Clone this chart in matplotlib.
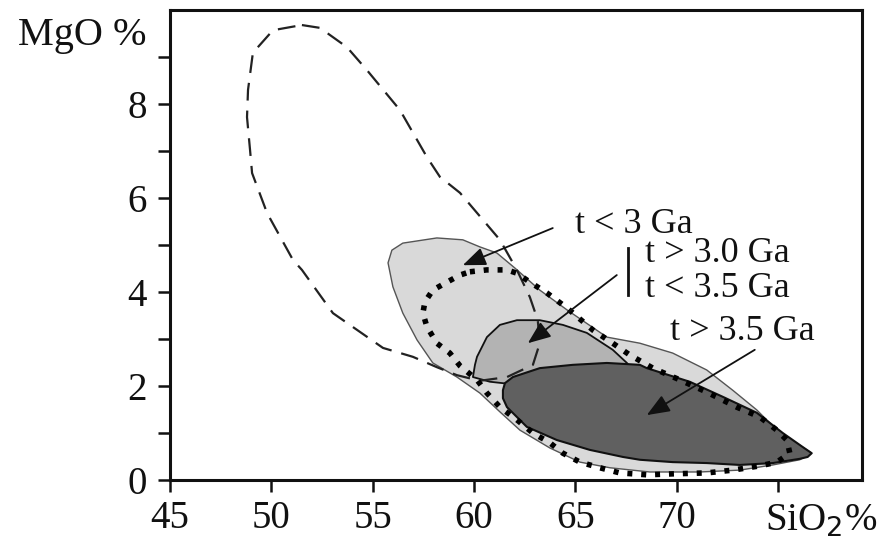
import matplotlib
matplotlib.use("Agg")
import matplotlib.pyplot as plt
from matplotlib.patches import Polygon

# ── Data (SiO2 %, MgO %) ─────────────────────────────────────────────────────

# dashed field (open, white)
dash_x = [51.51, 52.40, 53.73, 54.72, 56.35, 57.68, 58.32, 59.31, 61.28, 62.12,
          62.76, 63.15, 63.25, 62.91, 61.63, 60.29, 59.16, 58.17, 56.99, 55.51,
          53.04, 51.51, 51.07, 49.79, 49.05, 48.95, 48.80, 48.85, 49.09, 50.08]
dash_y = [9.68, 9.62, 9.21, 8.72, 7.87, 6.87, 6.45, 6.11, 5.11, 4.47,
          3.89, 3.40, 2.91, 2.45, 2.19, 2.11, 2.23, 2.40, 2.62, 2.81,
          3.55, 4.47, 4.68, 5.68, 6.53, 7.02, 7.72, 8.30, 9.09, 9.57]

# light grey field (t < 3 Ga)
light_x = [55.95, 56.49, 58.17, 59.45, 60.29, 61.13, 62.02, 63.25, 64.59, 66.56,
           68.19, 69.81, 71.49, 72.77, 73.96, 75.09, 76.08, 76.67, 76.08, 74.75,
           73.12, 71.15, 68.68, 66.71, 65.23, 63.75, 62.27, 61.28, 60.29, 59.16,
           57.97, 57.19, 56.49, 56.00, 55.76]
light_y = [4.89, 5.04, 5.15, 5.11, 4.96, 4.83, 4.51, 4.04, 3.62, 3.04,
           2.91, 2.70, 2.34, 1.91, 1.49, 1.00, 0.74, 0.57, 0.43, 0.32,
           0.21, 0.17, 0.17, 0.26, 0.38, 0.68, 1.06, 1.45, 1.85, 2.19,
           2.49, 2.98, 3.55, 4.11, 4.62]

# dotted field
dot_x = [59.80, 60.64, 61.63, 62.12, 62.76, 63.60, 64.59, 65.87, 66.85, 67.69,
         68.83, 70.16, 71.49, 72.97, 74.11, 74.95, 75.44, 75.59, 74.95, 74.11,
         72.78, 71.49, 69.81, 68.53, 67.20, 66.21, 65.23, 64.39, 63.75, 62.91,
         62.12, 61.28, 60.64, 60.15, 59.31, 58.81, 58.17, 57.68, 57.48, 57.58,
         57.97, 58.67, 59.31]
dot_y = [4.43, 4.47, 4.47, 4.40, 4.21, 3.98, 3.66, 3.19, 2.91, 2.66,
         2.38, 2.13, 1.87, 1.55, 1.34, 1.06, 0.85, 0.57, 0.38, 0.30,
         0.21, 0.15, 0.13, 0.11, 0.15, 0.26, 0.38, 0.57, 0.79, 1.00,
         1.28, 1.55, 1.85, 2.13, 2.43, 2.70, 2.91, 3.26, 3.55, 3.79,
         4.04, 4.21, 4.36]

# medium grey field (3.0 < t < 3.5 Ga)
mid_x = [59.95, 60.05, 60.15, 60.64, 61.28, 62.12, 63.25, 64.39, 65.57, 66.85,
         67.55, 68.68, 68.19, 66.21, 62.27, 60.79]
mid_y = [2.19, 2.45, 2.62, 3.04, 3.30, 3.40, 3.40, 3.30, 3.13, 2.77,
         2.49, 1.91, 1.28, 1.70, 2.02, 2.09]

# dark grey field (t > 3.5 Ga)
dark_x = [61.43, 61.53, 61.92, 63.25, 64.88, 66.56, 68.19, 68.53, 70.65, 72.28,
          73.96, 75.24, 76.23, 76.67, 76.47, 76.08, 74.75, 73.12, 71.49, 69.81,
          68.19, 67.35, 65.72, 64.09, 62.61, 61.63, 61.43]
dark_y = [1.91, 2.06, 2.19, 2.38, 2.45, 2.49, 2.45, 2.38, 2.09, 1.77,
          1.43, 1.00, 0.70, 0.57, 0.49, 0.45, 0.36, 0.32, 0.36, 0.38,
          0.43, 0.49, 0.64, 0.85, 1.13, 1.55, 1.74]

labels = ["t < 3 Ga", "t > 3.0 Ga", "t < 3.5 Ga", "t > 3.5 Ga"]
label_xy = [(64.98, 5.26), (68.43, 4.64), (68.43, 3.90), (69.67, 2.98)]
arrow_from = [(63.89, 5.36), (67.05, 4.36), (73.86, 2.77)]
arrow_to = [(59.45, 4.57), (62.66, 2.91), (68.53, 1.38)]

x_ticks = [45, 50, 55, 60, 65, 70, 75]
x_ticklabels = ["45", "50", "55", "60", "65", "70", ""]
y_major = [0, 2, 4, 6, 8]
y_minor = [1, 3, 5, 7, 9]

# ── Figure ────────────────────────────────────────────────────────────────────

plt.rcParams["font.family"] = ["Liberation Serif", "DejaVu Serif"]

fig = plt.figure(figsize=(8.8, 5.41), dpi=100)
ax = fig.add_axes([0.1932, 0.1128, 0.7863, 0.8687])
ax.set_xlim(45, 79.15)
ax.set_ylim(0, 10)

def field(xs, ys, **kw):
    ax.add_patch(Polygon(list(zip(xs, ys)), closed=True, joinstyle="round", **kw))

field(light_x, light_y, facecolor="#d9d9d9", edgecolor="#555555", lw=1.0, zorder=1)
field(mid_x, mid_y, facecolor="#b3b3b3", edgecolor="#111111", lw=1.3, zorder=2)
field(dark_x, dark_y, facecolor="#606060", edgecolor="#111111", lw=1.5, zorder=3)
field(dash_x, dash_y, facecolor="none", edgecolor="#222222", lw=1.6,
      linestyle=(0, (8, 4.5)), zorder=4)
field(dot_x, dot_y, facecolor="none", edgecolor="black", lw=4.0,
      linestyle=(0, (0.9, 1.6)), capstyle="butt", zorder=5)

for (fx, fy), (hx, hy) in zip(arrow_from, arrow_to):
    ax.annotate("", xy=(hx, hy), xytext=(fx, fy),
                arrowprops=dict(arrowstyle="-|>,head_length=0.5,head_width=0.2",
                                color="#111111", lw=1.3, mutation_scale=28,
                                shrinkA=0, shrinkB=0),
                zorder=6)

for (tx, ty), lab in zip(label_xy, labels):
    ax.text(tx, ty, lab, fontsize=26, ha="left", va="baseline",
            color="#111111", zorder=7)

# bracket bar in front of the two-line label
ax.plot([67.59, 67.59], [3.94, 4.94], color="#111111", lw=2.0, zorder=7)

ax.set_xticks(x_ticks)
ax.set_xticklabels(x_ticklabels)
ax.set_yticks(y_major)
ax.set_yticks(y_minor, minor=True)
ax.tick_params(axis="both", which="both", direction="out", length=8.5,
               width=1.8, labelsize=28, colors="#111111")
ax.tick_params(axis="x", pad=6)
ax.tick_params(axis="y", pad=8)
for sp in ax.spines.values():
    sp.set_linewidth(2.2)
    sp.set_color("#111111")

fig.text(18 / 880, 1 - 45 / 541, "MgO %", fontsize=29, ha="left",
         va="baseline", color="#111111")
fig.text(765 / 880, 1 - 531 / 541, "SiO$_2$%", fontsize=28, ha="left",
         va="baseline", color="#111111")

fig.savefig("out.png", dpi=100)
